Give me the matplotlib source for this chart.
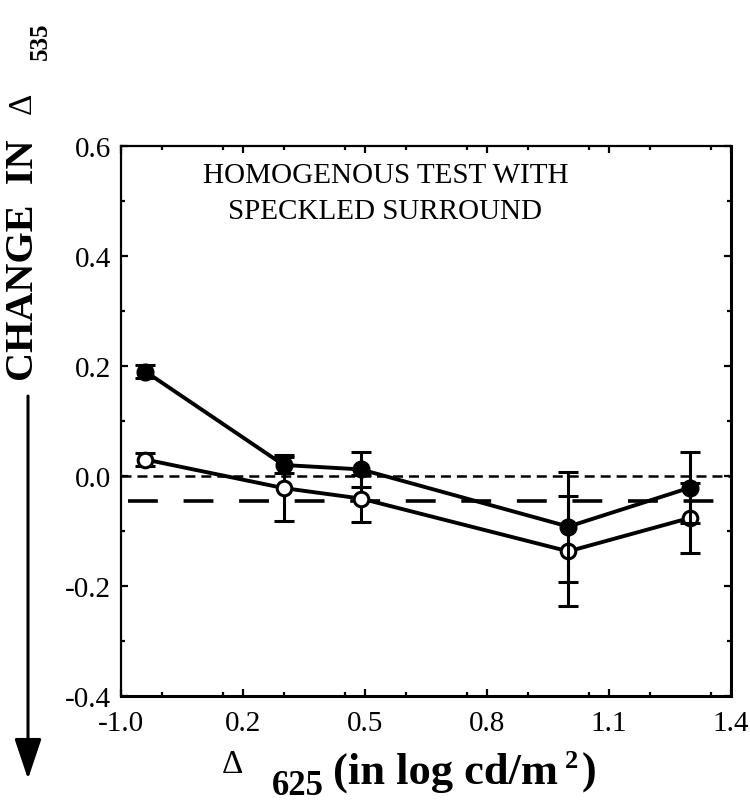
import matplotlib
matplotlib.use("Agg")
import matplotlib.pyplot as plt
from matplotlib.ticker import MultipleLocator, FixedLocator

plt.rcParams['font.family'] = ['Liberation Serif', 'DejaVu Serif']
plt.rcParams['lines.scale_dashes'] = False

# data
x_vals = [-0.04, 0.30, 0.49, 1.00, 1.30]
filled_y = [0.19, 0.02, 0.012, -0.092, -0.021]
filled_err = [0.012, 0.014, 0.032, 0.10, 0.065]
open_y = [0.03, -0.022, -0.041, -0.137, -0.076]
open_err = [0.012, 0.06, 0.043, 0.10, 0.064]

zero_level = 0.0
ref_level = -0.045
ref_span = [-0.083, 1.36]

x_ticks = [-0.1, 0.2, 0.5, 0.8, 1.1, 1.4]
x_ticklabels = ["-1.0", "0.2", "0.5", "0.8", "1.1", "1.4"]  # first label as printed
y_ticks = [-0.4, -0.2, 0.0, 0.2, 0.4, 0.6]
y_ticklabels = ["-0.4", "-0.2", "0.0", "0.2", "0.4", "0.6"]

W, H = 750, 803
fig = plt.figure(figsize=(W / 100, H / 100), dpi=100)
ax = fig.add_axes([121 / W, 1 - 697 / H, 610 / W, 550 / H])

ax.set_xlim(-0.1, 1.4)
ax.set_ylim(-0.4, 0.6)

# reference lines
ax.axhline(zero_level, color='k', lw=1.8, dashes=(7.2, 4.3), zorder=1)
ax.plot(ref_span, [ref_level, ref_level], color='k', lw=2.6,
        dashes=(21.5, 18.5), zorder=1)

# open symbols
ax.errorbar(x_vals, open_y, yerr=open_err, color='k', lw=2.8, elinewidth=2.2,
            capsize=7, capthick=2.2, marker='o', ms=10.5, mfc='white', mec='k',
            mew=2.2, zorder=3)
# filled symbols
ax.errorbar(x_vals, filled_y, yerr=filled_err, color='k', lw=2.8, elinewidth=2.2,
            capsize=7, capthick=2.2, marker='o', ms=12, mfc='k', mec='k',
            zorder=4)

ax.text(0.55, 0.548, "HOMOGENOUS TEST WITH", ha='center', va='center',
        fontsize=21)
ax.text(0.55, 0.481, "SPECKLED SURROUND", ha='center', va='center',
        fontsize=21)

ax.xaxis.set_major_locator(FixedLocator(x_ticks))
ax.set_xticklabels(x_ticklabels)
ax.xaxis.set_minor_locator(MultipleLocator(0.15))
ax.yaxis.set_major_locator(FixedLocator(y_ticks))
ax.set_yticklabels(y_ticklabels)
ax.yaxis.set_minor_locator(MultipleLocator(0.1))
ax.tick_params(which='both', direction='in', top=True, right=True,
               labelsize=21, width=1.6)
ax.tick_params(which='major', length=5)
ax.tick_params(which='minor', length=3)
ax.tick_params(axis='x', pad=10)
ax.tick_params(axis='y', pad=7)
for side, lw in [('left', 1.6), ('top', 1.6), ('bottom', 2.2), ('right', 2.2)]:
    ax.spines[side].set_linewidth(lw)

# y label, rotated pieces
fig.text(24 / W, 1 - 260 / H, "CHANGE  IN", rotation=90, ha='center',
         va='center', fontsize=29, fontweight='bold')
fig.text(22 / W, 1 - 103 / H, "\u0394", rotation=90, ha='center',
         va='center', fontsize=24)
fig.text(40 / W, 1 - 41 / H, "535", rotation=90, ha='center',
         va='center', fontsize=18, fontweight='bold')
ax.annotate("", xy=(28 / W, 1 - 780 / H), xytext=(28 / W, 1 - 397 / H),
            xycoords='figure fraction', textcoords='figure fraction',
            arrowprops=dict(arrowstyle='-|>,head_length=1.25,head_width=0.42',
                            mutation_scale=20, lw=2.2, color='k',
                            shrinkA=0, shrinkB=0))

# x label pieces
fig.text(222 / W, 1 - 773 / H, "\u0394", ha='left', va='baseline', fontsize=24)
fig.text(272 / W, 1 - 795 / H, "625", ha='left', va='baseline', fontsize=25,
         fontweight='bold')
fig.text(333 / W, 1 - 784 / H, "(in log cd/m", ha='left', va='baseline',
         fontsize=32, fontweight='bold')
fig.text(565 / W, 1 - 768 / H, "2", ha='left', va='baseline', fontsize=19,
         fontweight='bold')
fig.text(582 / W, 1 - 784 / H, ")", ha='left', va='baseline', fontsize=32,
         fontweight='bold')

fig.savefig("out.png", dpi=100)
